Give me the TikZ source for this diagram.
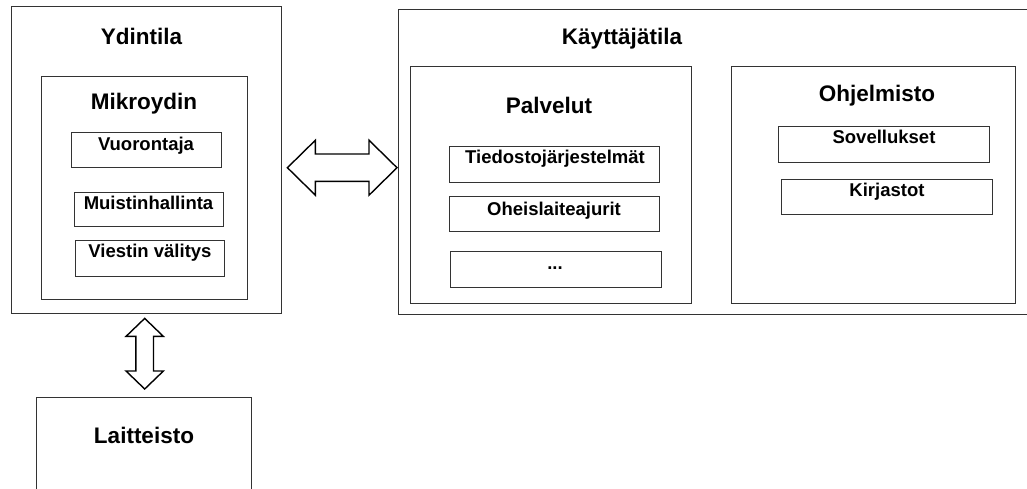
\documentclass[tikz,border=0pt]{standalone}
\usepackage{fontspec}
\setmainfont{Liberation Sans}
\usetikzlibrary{calc}

\tikzset{
  box/.style={draw=black!80, line width=1.4pt, anchor=north west, inner sep=0pt, rectangle},
  title/.style={font=\fontsize{22.5}{27}\selectfont\bfseries, anchor=base, inner sep=0pt},
  item/.style={font=\fontsize{18.5}{22}\selectfont\bfseries, anchor=base, inner sep=0pt},
  twoway/.style={draw=black, line width=1.4pt, line join=miter, fill=white}
}

\begin{document}
\begin{tikzpicture}[x=1pt,y=-1pt]
  \clip (0,0) rectangle (1027,488);
  \fill[white] (0,0) rectangle (1027,488);

  % kernel space
  \node[box, minimum width=270pt, minimum height=307pt] (ydin) at (11,6) {};
  \node[title] (ydinT) at (141.5,44) {Ydintila};
  \node[box, minimum width=206pt, minimum height=223pt] (mikro) at (41,76) {};
  \node[title] (mikroT) at (144,109) {Mikroydin};
  \node[box, minimum width=150pt, minimum height=35pt] (vuor) at (71,132) {};
  \node[item] (vuorT) at (146,150) {Vuorontaja};
  \node[box, minimum width=149pt, minimum height=34pt] (muist) at (74,192) {};
  \node[item] (muistT) at (148.5,209) {Muistinhallinta};
  \node[box, minimum width=149pt, minimum height=36pt] (viest) at (75,240) {};
  \node[item] (viestT) at (150,257) {Viestin välitys};

  % hardware (runs past the lower edge)
  \node[box, minimum width=215pt, minimum height=150pt] (lait) at (36,397) {};
  \node[title] (laitT) at (144,443) {Laitteisto};

  % user space (runs past the right edge)
  \node[box, minimum width=640pt, minimum height=305pt] (kayt) at (398,9) {};
  \node[title] (kaytT) at (622,44) {Käyttäjätila};
  \node[box, minimum width=281pt, minimum height=237pt] (palv) at (410,66) {};
  \node[title] (palvT) at (549,113) {Palvelut};
  \node[box, minimum width=210pt, minimum height=36pt] (tied) at (449,146) {};
  \node[item] (tiedT) at (555,163) {Tiedostojärjestelmät};
  \node[box, minimum width=210pt, minimum height=35pt] (oheis) at (449,196) {};
  \node[item] (oheisT) at (554,215) {Oheislaiteajurit};
  \node[box, minimum width=211pt, minimum height=36pt] (muut) at (450,251) {};
  \node[item] (muutT) at (555,269) {...};
  \node[box, minimum width=284pt, minimum height=237pt] (ohj) at (731,66) {};
  \node[title] (ohjT) at (877,101) {Ohjelmisto};
  \node[box, minimum width=211pt, minimum height=36pt] (sov) at (778,126) {};
  \node[item] (sovT) at (884,143) {Sovellukset};
  \node[box, minimum width=211pt, minimum height=35pt] (kirj) at (781,179) {};
  \node[item] (kirjT) at (887,196) {Kirjastot};

  % two-way link: kernel space <-> user space
  \coordinate (hL) at ($(ydin.east) + (5,7.5)$);
  \coordinate (hR) at ($(kayt.west) + (-1,5.5)$);
  \draw[twoway] (hL) -- ++(28,-27.5) -- ++(0,13.8) -- ($(hR)+(-28,-13.7)$)
    -- ++(0,-13.8) -- (hR) -- ++(-28,27.5) -- ++(0,-13.8)
    -- ($(hL)+(28,13.7)$) -- ++(0,13.8) -- cycle;

  % two-way link: kernel space <-> hardware
  \coordinate (vT) at ($(ydin.south) + (-2,4)$);
  \coordinate (vB) at ($(lait.north) + (0.5,-8)$);
  \draw[twoway] (vT) -- ++(18.7,18) -- ++(-9.9,0) -- ($(vB)+(8.8,-18)$)
    -- ++(9.9,0) -- (vB) -- ++(-18.7,-18) -- ++(9.9,0)
    -- ($(vT)+(-8.8,18)$) -- ++(-9.9,0) -- cycle;
\end{tikzpicture}
\end{document}
